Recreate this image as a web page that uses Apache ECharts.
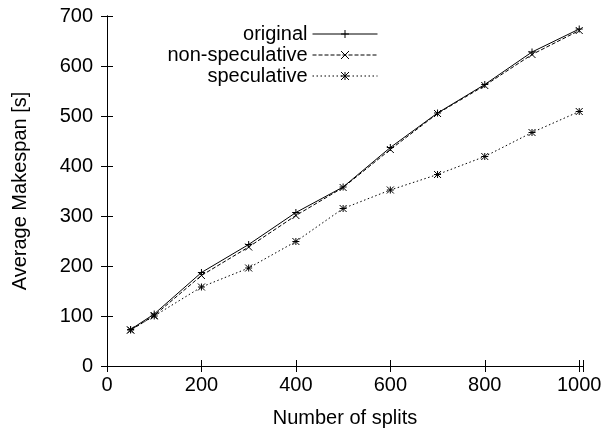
<!DOCTYPE html>
<html>
<head>
<meta charset="utf-8">
<script src="https://cdn.jsdelivr.net/npm/echarts@6/dist/echarts.min.js"></script>
<style>
    html, body { margin: 0; padding: 0; background: #fff; }
    #myChart { width: 608px; height: 435px; }
</style>
</head>
<body>
<div id="myChart"></div>
<script>
// number of splits
const splits = [50, 100, 200, 300, 400, 500, 600, 700, 800, 900, 1000]
// average makespan [s]
const original = [73, 104, 187, 243, 307, 358, 437, 506, 563, 628, 674]
const nonSpeculative = [72, 101, 181, 238, 301, 357, 433, 505, 561, 623, 671]
const speculative = [72, 100, 158, 196, 249, 315, 352, 383, 419, 467, 509]
const xTicks = [0, 200, 400, 600, 800, 1000]
const yTicks = [0, 100, 200, 300, 400, 500, 600, 700]

// gnuplot-like point shapes
const plusPath = 'path://M0,-5L0,5M-5,0L5,0'
const crossPath = 'path://M-5,-5L5,5M-5,5L5,-5'
const starPath = 'path://M0,-5L0,5M-5,0L5,0M-5,-5L5,5M-5,5L5,-5'

const font = 'Liberation Sans'
const fs = 20

function pairs (ys) {
    return splits.map((x, i) => [x, ys[i]])
}

function mkSeries (name, ys, symbol, lineType) {
    return {
        name: name,
        type: 'line',
        data: pairs(ys),
        symbol: symbol,
        symbolSize: 7,
        showAllSymbol: true,
        animation: false,
        lineStyle: { color: '#000', width: 1, type: lineType },
        itemStyle: { color: 'none', borderColor: '#000', borderWidth: 1 },
        emphasis: { disabled: true }
    }
}

const axisCommon = {
    axisLine: { show: true, lineStyle: { color: '#000', width: 1 } },
    axisTick: { show: true, inside: true, length: 6, lineStyle: { color: '#000' } },
    splitLine: { show: false }
}

let myChart = echarts.init(document.getElementById('myChart'))
myChart.setOption({
    animation: false,
    textStyle: { fontFamily: font },
    grid: { left: 107, right: 25, top: 16, bottom: 69 },
    legend: {
        orient: 'vertical',
        right: 230,
        top: 24,
        padding: 0,
        align: 'right',
        itemWidth: 65,
        itemHeight: 10,
        itemGap: 1,
        lineStyle: { width: 1 },
        itemStyle: { borderWidth: 1 },
        textStyle: { fontFamily: font, fontSize: fs, lineHeight: 20, color: '#000' },
        data: ['original', 'non-speculative', 'speculative']
    },
    xAxis: [
        Object.assign({
            type: 'value',
            min: 0,
            max: 1008,
            interval: 200,
            name: 'Number of splits',
            nameLocation: 'middle',
            nameGap: 42,
            nameTextStyle: { fontFamily: font, fontSize: fs, color: '#000' },
            axisLabel: {
                margin: 9,
                fontFamily: font,
                fontSize: fs,
                color: '#000',
                formatter: v => xTicks.indexOf(v) >= 0 ? String(v) : ''
            }
        }, axisCommon),
        Object.assign({
            type: 'value',
            position: 'top',
            min: 0,
            max: 1008,
            interval: 200,
            axisLabel: { show: false }
        }, axisCommon)
    ],
    yAxis: [
        Object.assign({
            type: 'value',
            min: 0,
            max: 700,
            interval: 100,
            name: 'Average Makespan [s]',
            nameLocation: 'middle',
            nameGap: 77,
            nameTextStyle: { fontFamily: font, fontSize: fs, color: '#000' },
            axisLabel: {
                margin: 14,
                fontFamily: font,
                fontSize: fs,
                color: '#000',
                formatter: v => yTicks.indexOf(v) >= 0 ? String(v) : ''
            }
        }, axisCommon),
        Object.assign({
            type: 'value',
            position: 'right',
            min: 0,
            max: 700,
            interval: 100,
            axisLabel: { show: false }
        }, axisCommon)
    ],
    series: [
        mkSeries('original', original, plusPath, 'solid'),
        mkSeries('non-speculative', nonSpeculative, crossPath, [4, 2]),
        mkSeries('speculative', speculative, starPath, [1.5, 2.5])
    ]
})
</script>
</body>
</html>
